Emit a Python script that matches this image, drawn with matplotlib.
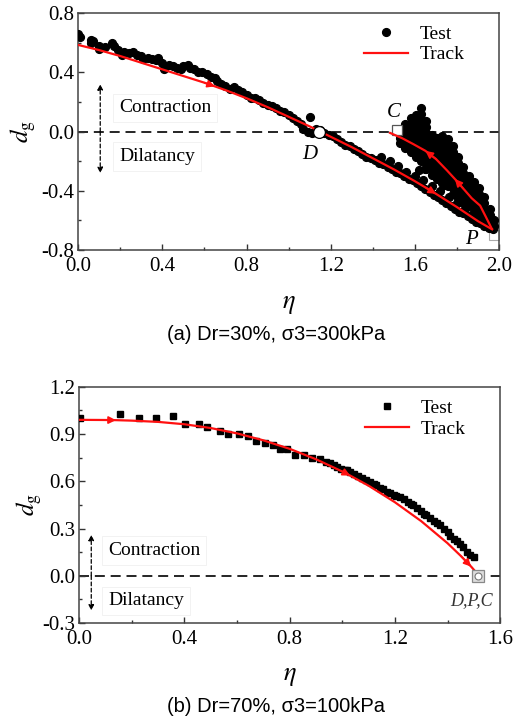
import matplotlib
matplotlib.use('Agg')
import matplotlib.pyplot as plt
from matplotlib.ticker import MultipleLocator, FormatStrFormatter

plt.rcParams['font.family'] = 'Liberation Serif'
plt.rcParams['mathtext.fontset'] = 'stix'
plt.rcParams['axes.unicode_minus'] = False

# ---------------- panel (a): Dr=30%, sigma3=300kPa ----------------
# loading branch (test)
eta_a_load = [0.00, 0.01, 0.06, 0.06, 0.07, 0.10, 0.10, 0.13, 0.16, 0.17, 0.19, 0.21,
              0.22, 0.24, 0.26, 0.28, 0.30, 0.31, 0.33, 0.35, 0.37, 0.38, 0.40, 0.41,
              0.43, 0.45, 0.47, 0.49, 0.50, 0.52, 0.53, 0.55, 0.57, 0.59, 0.61, 0.63,
              0.65, 0.66, 0.68, 0.70, 0.72, 0.74, 0.76, 0.78, 0.80, 0.82, 0.84, 0.86,
              0.88, 0.90, 0.92, 0.94, 0.96, 0.98, 1.00, 1.02, 1.04, 1.06, 1.07, 1.09,
              1.10, 1.11, 1.13, 1.15, 1.17, 1.19, 1.21, 1.23, 1.25, 1.27, 1.29, 1.31,
              1.33, 1.35, 1.37, 1.39, 1.41, 1.43, 1.45, 1.47, 1.49, 1.51, 1.53, 1.55,
              1.57, 1.59, 1.61, 1.63, 1.65, 1.67, 1.69, 1.71, 1.73, 1.75, 1.77, 1.79,
              1.81, 1.83, 1.85, 1.87, 1.89, 1.91, 1.93, 1.95, 1.97]
dg_a_load = [0.66, 0.64, 0.62, 0.60, 0.61, 0.56, 0.58, 0.57, 0.60, 0.58, 0.55, 0.52,
             0.54, 0.53, 0.54, 0.52, 0.51, 0.49, 0.50, 0.49, 0.48, 0.50, 0.46, 0.42,
             0.45, 0.44, 0.43, 0.42, 0.44, 0.45, 0.43, 0.42, 0.40, 0.40, 0.39, 0.37,
             0.36, 0.34, 0.32, 0.31, 0.29, 0.30, 0.28, 0.27, 0.25, 0.23, 0.23, 0.21,
             0.19, 0.18, 0.17, 0.16, 0.14, 0.13, 0.11, 0.09, 0.07, 0.05, 0.02, 0.00,
             0.10, -0.01, 0.02, 0.01, -0.01, -0.02, -0.03, -0.05, -0.07, -0.09, -0.10, -0.12,
             -0.13, -0.15, -0.17, -0.18, -0.19, -0.21, -0.22, -0.24, -0.25, -0.27, -0.28, -0.30,
             -0.32, -0.33, -0.35, -0.37, -0.39, -0.41, -0.43, -0.44, -0.46, -0.48, -0.50, -0.52,
             -0.54, -0.55, -0.57, -0.59, -0.61, -0.62, -0.64, -0.65, -0.66]

# upper edge of the lower band (band is thicker than one dot) plus small fingers
eta_a_band2 = [1.44, 1.48, 1.52, 1.56, 1.60, 1.64, 1.68, 1.72, 1.76, 1.80, 1.84, 1.88,
               1.92, 1.62, 1.65, 1.74, 1.79]
dg_a_band2 = [-0.17, -0.20, -0.235, -0.27, -0.30, -0.33, -0.37, -0.40, -0.44, -0.48, -0.52,
              -0.56, -0.60, -0.26, -0.25, -0.36, -0.41]

# unloading cloud between C and P, one list of dg values per eta column
cloud_eta = [1.53, 1.555, 1.58, 1.605, 1.63, 1.655, 1.68, 1.705, 1.73, 1.755,
             1.78, 1.805, 1.83, 1.855, 1.88, 1.905, 1.93, 1.955, 1.975]
cloud_dg = [
    [0.00, -0.04, -0.08],
    [0.05, 0.01, -0.03, -0.07, -0.11],
    [0.09, 0.05, 0.01, -0.03, -0.07, -0.11, -0.14],
    [0.11, 0.07, 0.03, -0.01, -0.05, -0.09, -0.13, -0.17],
    [0.16, 0.12, 0.08, 0.04, 0.00, -0.04, -0.08, -0.12, -0.16, -0.20],
    [0.07, 0.03, -0.01, -0.05, -0.09, -0.13, -0.17, -0.21, -0.25],
    [-0.02, -0.06, -0.10, -0.14, -0.18, -0.22, -0.26, -0.29],
    [-0.04, -0.08, -0.12, -0.16, -0.20, -0.24, -0.28, -0.32],
    [-0.03, -0.07, -0.11, -0.15, -0.19, -0.23, -0.27, -0.31, -0.35],
    [-0.05, -0.09, -0.13, -0.17, -0.21, -0.25, -0.29, -0.33, -0.37],
    [-0.10, -0.14, -0.18, -0.22, -0.26, -0.30, -0.34, -0.38, -0.42],
    [-0.17, -0.21, -0.25, -0.29, -0.33, -0.37, -0.41, -0.45],
    [-0.24, -0.28, -0.32, -0.36, -0.40, -0.44, -0.48],
    [-0.30, -0.34, -0.38, -0.42, -0.46, -0.50],
    [-0.34, -0.38, -0.42, -0.46, -0.50, -0.54],
    [-0.38, -0.42, -0.46, -0.50, -0.54, -0.57],
    [-0.44, -0.48, -0.52, -0.56, -0.60],
    [-0.52, -0.56, -0.60, -0.63],
    [-0.60, -0.64],
]

# track (model) for panel (a)
eta_a_track = [0.0, 0.1, 0.2, 0.3, 0.4, 0.5, 0.6, 0.65, 0.7, 0.8, 0.9, 1.0, 1.1, 1.15,
               1.2, 1.3, 1.4, 1.5, 1.6, 1.65, 1.7, 1.8, 1.9, 1.967]
dg_a_track = [0.585, 0.55, 0.51, 0.465, 0.42, 0.375, 0.33, 0.305, 0.28, 0.225, 0.165, 0.10,
              0.035, 0.0, -0.035, -0.105, -0.18, -0.255, -0.335, -0.377, -0.42, -0.51,
              -0.605, -0.66]
eta_a_unload = [1.965, 1.935, 1.91, 1.87, 1.83, 1.79, 1.751, 1.70, 1.65, 1.593, 1.54, 1.482]
dg_a_unload = [-0.655, -0.57, -0.50, -0.45, -0.385, -0.32, -0.26, -0.185, -0.13, -0.085,
               -0.045, -0.009]

# ---------------- panel (b): Dr=70%, sigma3=100kPa ----------------
eta_b_test = [0.004, 0.156, 0.229, 0.291, 0.355, 0.403, 0.456, 0.485, 0.536, 0.565, 0.606,
              0.643, 0.672, 0.705, 0.736, 0.764, 0.789, 0.821, 0.853, 0.884, 0.916,
              0.94, 0.955, 0.967, 0.98, 0.995, 1.01, 1.017, 1.03, 1.045, 1.06, 1.075,
              1.09, 1.105, 1.119, 1.13, 1.145, 1.155, 1.169, 1.18, 1.195, 1.205, 1.22,
              1.235, 1.25, 1.26, 1.27, 1.285, 1.30, 1.31, 1.32, 1.335, 1.35, 1.36,
              1.372, 1.385, 1.40, 1.41, 1.423, 1.435, 1.448, 1.46, 1.474, 1.485, 1.499]
dg_b_test = [0.999, 1.03, 1.003, 1.003, 1.013, 0.966, 0.962, 0.945, 0.92, 0.903, 0.898,
             0.886, 0.856, 0.846, 0.828, 0.807, 0.807, 0.765, 0.769, 0.748, 0.739,
             0.725, 0.715, 0.701, 0.69, 0.68, 0.672, 0.669, 0.66, 0.645, 0.635, 0.622,
             0.61, 0.598, 0.585, 0.575, 0.56, 0.548, 0.532, 0.525, 0.51, 0.505, 0.50,
             0.49, 0.47, 0.458, 0.447, 0.43, 0.41, 0.395, 0.383, 0.365, 0.345, 0.333,
             0.32, 0.30, 0.275, 0.255, 0.235, 0.22, 0.20, 0.18, 0.15, 0.135, 0.119]
eta_b_track = [0.0, 0.1, 0.14, 0.2, 0.3, 0.4, 0.5, 0.6, 0.7, 0.8, 0.9, 1.0, 1.03, 1.1,
               1.2, 1.3, 1.4, 1.45, 1.49, 1.52]
dg_b_track = [0.99, 0.989, 0.988, 0.985, 0.977, 0.962, 0.938, 0.904, 0.86, 0.806, 0.74,
              0.662, 0.636, 0.572, 0.467, 0.347, 0.207, 0.127, 0.058, 0.0]

RED = '#ff1010'


def style_axes(ax, xmax, xmaj, ymin, ymax, ymaj):
    ax.set_xlim(0, xmax)
    ax.set_ylim(ymin, ymax)
    ax.xaxis.set_major_locator(MultipleLocator(xmaj))
    ax.xaxis.set_minor_locator(MultipleLocator(xmaj / 2))
    ax.yaxis.set_major_locator(MultipleLocator(ymaj))
    ax.yaxis.set_minor_locator(MultipleLocator(ymaj / 2))
    ax.xaxis.set_major_formatter(FormatStrFormatter('%.1f'))
    ax.yaxis.set_major_formatter(FormatStrFormatter('%.1f'))
    ax.tick_params(which='both', direction='in', top=False, right=False,
                   labelsize=15, color='#333333')
    ax.tick_params(which='major', length=4, width=1)
    ax.tick_params(which='minor', length=2.5, width=1)
    ax.tick_params(axis='x', pad=5)
    ax.tick_params(axis='y', pad=3)
    for sp in ax.spines.values():
        sp.set_color('#444444')
        sp.set_linewidth(1.1)
    ax.axhline(0, color='black', linestyle='--', linewidth=1.2, dashes=(6, 3.5), zorder=1)


def add_arrow(ax, xs, ys, i):
    ax.annotate('', xy=(xs[i + 1], ys[i + 1]), xytext=(xs[i], ys[i]),
                arrowprops=dict(arrowstyle='-|>', color=RED, lw=1.2,
                                mutation_scale=11, shrinkA=0, shrinkB=0), zorder=6)


def region_labels(ax, x_arrow, y_top, y_bot, x_text, y_con, y_dil):
    for y_end in (y_top, y_bot):
        ax.annotate('', xy=(x_arrow, y_end), xytext=(x_arrow, 0),
                    arrowprops=dict(arrowstyle='-|>', color='black', lw=0.9,
                                    ls=(0, (3, 2)), mutation_scale=8,
                                    shrinkA=0, shrinkB=0))
    box = dict(boxstyle='square,pad=0.3', facecolor='white', edgecolor='#f0f0f0', lw=0.6)
    ax.text(x_text, y_con, 'Contraction', fontsize=14, va='center', ha='left', bbox=box, zorder=4)
    ax.text(x_text, y_dil, 'Dilatancy', fontsize=14, va='center', ha='left', bbox=box, zorder=4)


fig = plt.figure(figsize=(5.14, 7.27), dpi=100)
ax1 = fig.add_axes([0.152, 0.656, 0.819, 0.326])
ax2 = fig.add_axes([0.154, 0.143, 0.819, 0.325])

# ---- panel (a)
style_axes(ax1, 2.0, 0.4, -0.8, 0.8, 0.4)
region_labels(ax1, 0.105, 0.32, -0.28, 0.195, 0.16, -0.17)
cloud_x = [e for e, col in zip(cloud_eta, cloud_dg) for _ in col]
cloud_y = [v for col in cloud_dg for v in col]
for xs, ys in [(eta_a_load, dg_a_load), (eta_a_band2, dg_a_band2), (cloud_x, cloud_y)]:
    ax1.plot(xs, ys, 'o', color='black', ms=5.6, zorder=3)
ax1.plot(eta_a_track, dg_a_track, '-', color=RED, lw=1.6, zorder=5)
ax1.plot(eta_a_unload, dg_a_unload, '-', color=RED, lw=1.6, zorder=5)
add_arrow(ax1, eta_a_track, dg_a_track, 6)
add_arrow(ax1, eta_a_track, dg_a_track, 19)
add_arrow(ax1, eta_a_unload, dg_a_unload, 4)
add_arrow(ax1, eta_a_unload, dg_a_unload, 7)
ax1.plot([1.145], [0.0], 'o', ms=8.5, mfc='white', mec='black', mew=0.9, zorder=7)
ax1.plot([1.515], [0.01], 's', ms=7.5, mfc='white', mec='#555555', mew=0.9, zorder=4)
ax1.plot([1.975], [-0.70], 's', ms=7, mfc='white', mec='#aaaaaa', mew=0.8, zorder=2)
ax1.text(1.10, -0.155, 'D', fontsize=15, style='italic', ha='center', va='center')
ax1.text(1.50, 0.13, 'C', fontsize=15, style='italic', ha='center', va='center')
ax1.text(1.87, -0.73, 'P', fontsize=15, style='italic', ha='center', va='center')
ax1.plot([], [], 'o', color='black', ms=5.6, label='Test')
ax1.plot([], [], '-', color=RED, lw=1.6, label='Track')
ax1.legend(loc='upper right', bbox_to_anchor=(0.947, 0.998), frameon=False, fontsize=14,
           handlelength=2.3, handletextpad=0.6, labelspacing=0.15, borderaxespad=0.2)

# ---- panel (b)
style_axes(ax2, 1.6, 0.4, -0.3, 1.2, 0.3)
region_labels(ax2, 0.046, 0.26, -0.22, 0.11, 0.16, -0.16)
ax2.plot(eta_b_test, dg_b_test, 's', color='black', ms=4.2, zorder=3)
ax2.plot(eta_b_track, dg_b_track, '-', color=RED, lw=1.6, zorder=5)
add_arrow(ax2, eta_b_track, dg_b_track, 1)
add_arrow(ax2, eta_b_track, dg_b_track, 11)
add_arrow(ax2, eta_b_track, dg_b_track, 17)
ax2.plot([1.517], [0.0], 's', ms=8, mfc='#dddddd', mec='#888888', mew=0.9, zorder=7)
ax2.plot([1.517], [0.0], 'o', ms=5, mfc='white', mec='#777777', mew=0.8, zorder=8)
ax2.text(1.49, -0.16, 'D,P,C', fontsize=13, style='italic', ha='center', va='center',
         color='#333333')
ax2.plot([], [], 's', color='black', ms=4.2, label='Test')
ax2.plot([], [], '-', color=RED, lw=1.6, label='Track')
ax2.legend(loc='upper right', bbox_to_anchor=(0.947, 0.995), frameon=False, fontsize=14,
           handlelength=2.3, handletextpad=0.6, labelspacing=0.15, borderaxespad=0.2)

# axis labels and captions
for ax, yeta, xdg in [(ax1, 305, 23), (ax2, 677, 29)]:
    pos = ax.get_position()
    fig.text(0.5 * (pos.x0 + pos.x1), 1 - yeta / 727, r'$\eta$', fontsize=19,
             ha='center', va='center')
    fig.text(xdg / 514, 0.5 * (pos.y0 + pos.y1), r'$d_{\mathrm{g}}$', fontsize=18,
             rotation=90, ha='center', va='center')
fig.text(276 / 514, 1 - 335 / 727, '(a) Dr=30%, σ3=300kPa', fontsize=14.5,
         family='Liberation Sans', ha='center', va='center')
fig.text(276 / 514, 1 - 707 / 727, '(b) Dr=70%, σ3=100kPa', fontsize=14.5,
         family='Liberation Sans', ha='center', va='center')

fig.savefig('out.png', dpi=100)
